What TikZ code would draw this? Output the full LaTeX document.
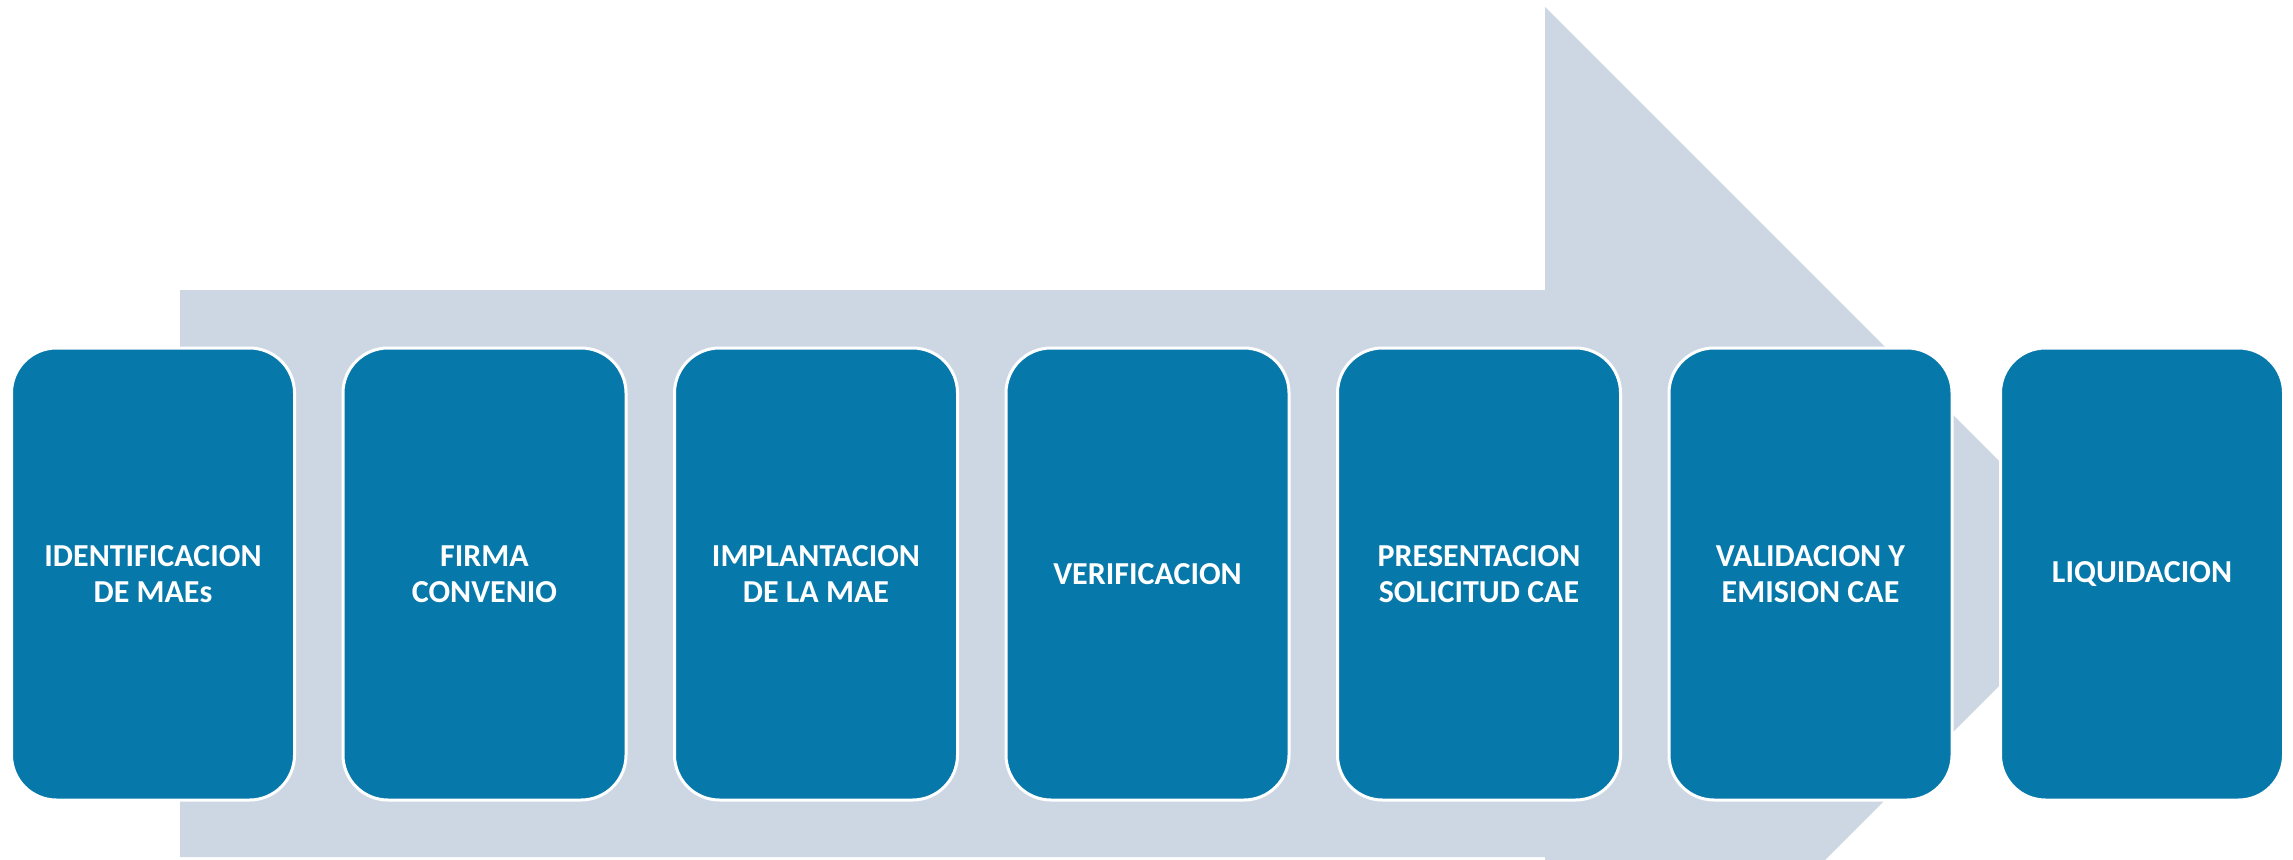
\documentclass[tikz,border=0pt]{standalone}
\usepackage{fontspec}
\setmainfont{Carlito}
\definecolor{boxblue}{RGB}{6,120,170}
\definecolor{arrowgray}{RGB}{205,215,227}
\tikzset{
  stepbox/.style={draw=white, line width=3pt, fill=boxblue, rounded corners=45pt,
    minimum width=283pt, minimum height=452pt, anchor=north west, inner sep=0pt,
    text=white, align=center, font=\fontsize{32}{36}\selectfont\bfseries},
}
\begin{document}
\begin{tikzpicture}[x=1pt,y=-1pt]
\useasboundingbox (0,0) rectangle (2293,859);
\clip (0,0) rectangle (2293,859);
\fill[arrowgray] (180,290) -- (1545,290) -- (1545,7) -- (2111.5,573.5) -- (1545,1140) -- (1545,857) -- (180,857) -- cycle;
\node[stepbox] (b1) at (10,346.5) {IDENTIFICACION\\DE MAEs};
\node[stepbox] (b2) at (341.5,346.5) {FIRMA\\CONVENIO};
\node[stepbox] (b3) at (673,346.5) {IMPLANTACION\\DE LA MAE};
\node[stepbox] (b4) at (1004.5,346.5) {VERIFICACION};
\node[stepbox] (b5) at (1336,346.5) {PRESENTACION\\SOLICITUD CAE};
\node[stepbox] (b6) at (1667.5,346.5) {VALIDACION Y\\EMISION CAE};
\node[stepbox] (b7) at (1999,346.5) {LIQUIDACION};
\end{tikzpicture}
\end{document}
